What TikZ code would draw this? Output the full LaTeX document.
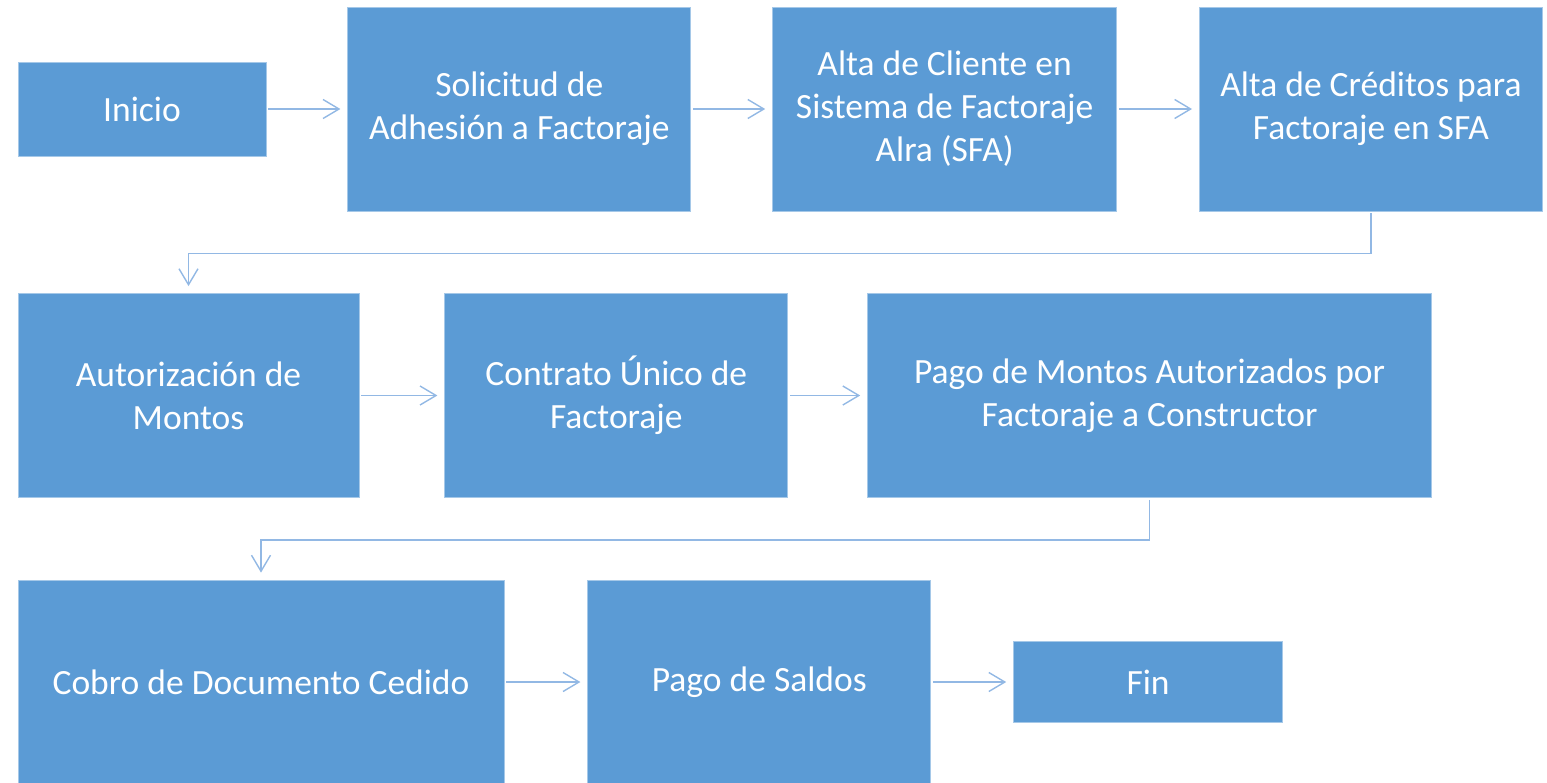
\documentclass[tikz,border=0pt]{standalone}
\usepackage{fontspec}
\setmainfont{Carlito}
\usepackage{tikz}
\usetikzlibrary{positioning,arrows.meta}
\definecolor{boxblue}{RGB}{91, 155, 213}
\definecolor{linkblue}{RGB}{146, 184, 228}
\tikzstyle{proc} = [rectangle, draw=boxblue!55!white, line width=0.8pt, fill=boxblue, text=white, align=center, inner sep=0pt, font=\fontsize{35.5}{43}\selectfont, minimum width=343pt, minimum height=204pt]
\tikzstyle{tedge} = [draw=linkblue, line width=1.4pt, -{Straight Barb[length=16pt, width=19pt]}, shorten <=2pt, shorten >=7pt]

\begin{document}
\begin{tikzpicture}[x=1pt, y=-1pt]
\useasboundingbox (0,0) rectangle (1547,782);

% first row =============================
\node[proc, minimum width=248pt, minimum height=94pt] (inicio) at (142,109) {Inicio};
\node[proc, right=81pt of inicio] (solicitud) {Solicitud de\\Adhesión a Factoraje};
\node[proc, minimum width=344pt, right=81pt of solicitud] (altacliente) {Alta de Cliente en\\Sistema de Factoraje\\Alra (SFA)};
\node[proc, right=82pt of altacliente] (altacreditos) {Alta de Créditos para\\Factoraje en SFA};

% second row ============================
\node[proc, minimum width=341pt] (autorizacion) at (188.5,395.5) {Autorización de\\Montos};
\node[proc, right=85pt of autorizacion] (contrato) {Contrato Único de\\Factoraje};
\node[proc, minimum width=564pt, right=79pt of contrato] (pagomontos) {Pago de Montos Autorizados por\\Factoraje a Constructor};

% third row =============================
\node[proc, minimum width=486pt] (cobro) at (261,682) {Cobro de Documento Cedido};
\node[proc, right=83pt of cobro] (saldos) {Pago de Saldos};
\node[proc, minimum width=269pt, minimum height=81pt, right=82pt of saldos] (fin) {Fin};

% edges
\path[tedge] (inicio) -- (solicitud);
\path[tedge] (solicitud) -- (altacliente);
\path[tedge] (altacliente) -- (altacreditos);
\path[tedge] (altacreditos.south) -- ++(0,42) -| (autorizacion.north);
\path[tedge] (autorizacion) -- (contrato);
\path[tedge] (contrato) -- (pagomontos);
\path[tedge] (pagomontos.south) -- ++(0,42) -| (cobro.north);
\path[tedge] (cobro) -- (saldos);
\path[tedge] (saldos) -- (fin);

\end{tikzpicture}
\end{document}
